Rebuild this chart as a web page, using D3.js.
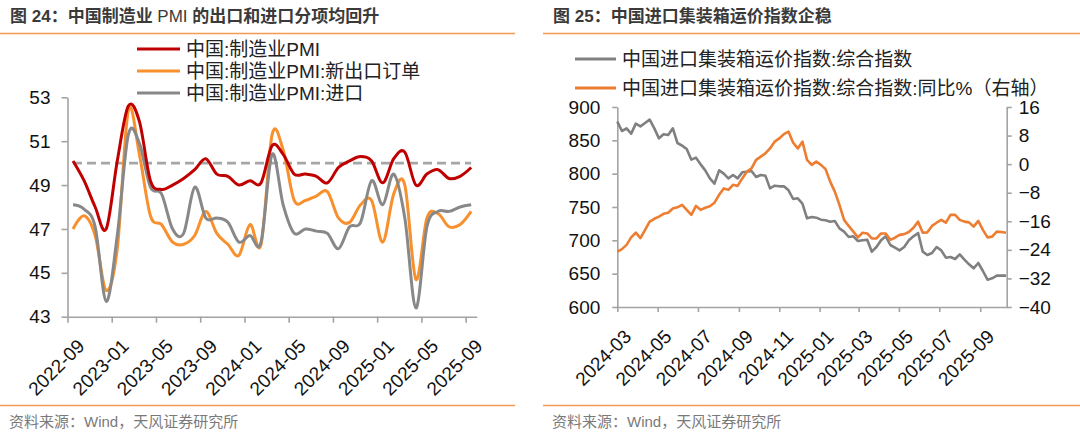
<!DOCTYPE html>
<html>
<head>
<meta charset="utf-8">
<title>PMI 与集装箱运价</title>
<script src="https://d3js.org/d3.v7.min.js"></script>
<style>
body { margin: 0; background: #fff; }
</style>
</head>
<body>
<div id="chart"></div>
<script>
// ---- 图24：中国制造业PMI（月度）----
const pmiMonths = ["2022-09","2022-10","2022-11","2022-12","2023-01","2023-02","2023-03","2023-04","2023-05","2023-06",
  "2023-07","2023-08","2023-09","2023-10","2023-11","2023-12","2024-01","2024-02","2024-03","2024-04",
  "2024-05","2024-06","2024-07","2024-08","2024-09","2024-10","2024-11","2024-12","2025-01","2025-02",
  "2025-03","2025-04","2025-05","2025-06","2025-07","2025-08","2025-09"];
const pmiTickMonths = ["2022-09","2023-01","2023-05","2023-09","2024-01","2024-05","2024-09","2025-01","2025-05","2025-09"];
const pmi       = [50.1,49.2,48.0,47.0,50.1,52.6,51.9,49.2,48.8,49.0,49.3,49.7,50.2,49.5,49.4,49.0,49.2,49.1,50.8,50.4,
                   49.5,49.5,49.4,49.1,49.8,50.1,50.3,50.1,49.1,50.2,50.5,49.0,49.5,49.7,49.3,49.4,49.8];
const pmiExport = [47.0,47.6,46.7,44.2,46.1,52.4,50.4,47.6,47.2,46.4,46.3,46.7,47.8,46.8,46.3,45.8,47.2,46.3,51.3,50.6,
                   48.3,48.3,48.5,48.7,47.5,47.3,48.1,48.3,46.4,48.6,49.0,44.7,47.5,47.7,47.1,47.2,47.8];
const pmiImport = [48.1,47.9,47.1,43.7,46.7,51.3,50.9,48.9,48.6,47.0,46.8,48.9,47.5,47.5,47.3,46.4,46.7,46.4,50.4,48.1,
                   46.8,47.0,46.9,46.8,46.1,47.1,47.3,49.2,48.1,49.5,47.5,43.4,47.1,47.8,47.8,48.0,48.1];
const pmiYTicks = [43,45,47,49,51,53];
const pmiLine = 50;

// ---- 图25：中国进口集装箱运价指数（周度）----
const ccfiStart = "2024-03-01";
const ccfiIndex = [878,864,868,860,875,871,876,881,868,853,
                   859,858,868,846,842,837,821,824,814,805,
                   793,785,805,800,793,798,793,802,803,804,
                   795,798,797,778,782,781,781,775,762,763,
                   755,733,735,734,731,730,728,729,718,713,
                   705,706,699,700,701,683,690,700,706,693,
                   689,685,690,700,706,711,683,678,681,690,
                   685,674,675,672,679,671,664,658,666,654,
                   641,643,647,647,647];
const ccfiYoy = [-24.5,-23.8,-22.6,-20.5,-19.2,-20.7,-18.4,-16.1,-15.3,-14.7,
                 -13.9,-13.6,-12.4,-12.1,-11.4,-12.8,-14.2,-11.7,-12.8,-12.2,
                 -11.8,-10.8,-8.6,-6.8,-7.2,-5.8,-6.1,-4.0,-2.1,-1.2,
                 1.2,2.1,3.0,4.4,6.3,7.2,8.4,9.1,6.0,4.4,
                 6.3,1.2,-0.2,0.7,-0.2,-1.4,-4.9,-7.7,-11.4,-15.6,
                 -17.3,-18.9,-20.5,-19.2,-19.4,-20.8,-20.8,-19.4,-19.4,-21.2,
                 -20.6,-19.8,-19.6,-19.0,-17.8,-16.1,-19.2,-19.1,-17.3,-16.4,
                 -15.6,-16.4,-14.2,-14.2,-15.6,-16.1,-16.3,-17.5,-15.9,-18.4,
                 -20.5,-20.3,-18.9,-19.0,-19.2];
const ccfiTickMonths = ["2024-03","2024-05","2024-07","2024-09","2024-11","2025-01","2025-03","2025-05","2025-07","2025-09"];
const ccfiLeftTicks = [600,650,700,750,800,850,900];
const ccfiRightTicks = [-40,-32,-24,-16,-8,0,8,16];

const fontStack = '"Liberation Sans", Arial, "Noto Sans CJK SC", sans-serif';
const axisColor = "#a3a3a3";
const rule = "#f29b50";

const svg = d3.select("#chart").append("svg")
    .attr("width", 1080).attr("height", 433)
    .style("background", "#fff")
    .attr("font-family", fontStack);

// 标题、分隔线、资料来源
function frame(x0, x1, titleParts) {
    const t = svg.append("text").attr("x", x0 + 10).attr("y", 22)
        .attr("font-size", 17).attr("fill", "#3a3a3a");
    titleParts.forEach(p => t.append("tspan").attr("font-weight", p[1] ? "bold" : "normal").text(p[0]));
    svg.append("line").attr("x1", x0).attr("x2", x1).attr("y1", 33.5).attr("y2", 33.5)
        .attr("stroke", rule).attr("stroke-width", 1.5);
    svg.append("line").attr("x1", x0).attr("x2", x1).attr("y1", 405.5).attr("y2", 405.5)
        .attr("stroke", rule).attr("stroke-width", 1.5);
    svg.append("text").attr("x", x0 + 9).attr("y", 427)
        .attr("font-size", 15).attr("fill", "#7a7a7a")
        .text("资料来源：Wind，天风证券研究所");
}

function styleAxis(g) {
    g.attr("font-family", fontStack).attr("font-size", 19);
    g.select(".domain").attr("stroke", axisColor).attr("stroke-width", 1.6);
    g.selectAll(".tick line").attr("stroke", axisColor).attr("stroke-width", 1.6);
    g.selectAll(".tick text").attr("fill", "#111");
}

function rotateLabels(dx, dy) {
    return g => g.selectAll(".tick text")
        .attr("x", 0).attr("y", 0).attr("dy", "0.72em")
        .attr("text-anchor", "end")
        .attr("transform", `translate(${dx},${dy}) rotate(-45)`);
}

function legend(items, x, y0, step, len) {
    items.forEach((it, i) => {
        const y = y0 + i * step;
        svg.append("line").attr("x1", x).attr("x2", x + len).attr("y1", y).attr("y2", y)
            .attr("stroke", it.color).attr("stroke-width", 3);
        svg.append("text").attr("x", x + len + 6).attr("y", y)
            .attr("dominant-baseline", "central")
            .attr("font-size", 19).attr("fill", "#222").text(it.name);
    });
}

// ================= 图24 =================
frame(0, 515, [["图 24：中国制造业 ", true], ["PMI", false], [" 的出口和进口分项均回升", true]]);

const xL = d3.scaleLinear().domain([0, pmiMonths.length]).range([67.5, 476.7]);
const yL = d3.scaleLinear().domain([43, 53]).range([316.7, 97.3]);

svg.append("g").attr("transform", `translate(${xL.range()[0]},0)`)
    .call(d3.axisLeft(yL).tickValues(pmiYTicks).tickSize(6).tickPadding(11).tickSizeOuter(0))
    .call(styleAxis);

svg.append("g").attr("transform", `translate(0,${yL.range()[0]})`)
    .call(d3.axisBottom(xL).tickValues(pmiTickMonths.map(m => pmiMonths.indexOf(m)))
        .tickFormat(i => pmiMonths[i]).tickSize(6).tickSizeOuter(0))
    .call(styleAxis)
    .call(rotateLabels(8, 21));

// 50 荣枯线
svg.append("line")
    .attr("x1", xL(0.5)).attr("x2", xL(pmiMonths.length - 0.5))
    .attr("y1", yL(pmiLine)).attr("y2", yL(pmiLine))
    .attr("stroke", "#a6a6a6").attr("stroke-width", 2.6).attr("stroke-dasharray", "9,5");

const smooth = d3.line().x((d, i) => xL(i + 0.5)).y(d => yL(d)).curve(d3.curveCatmullRom.alpha(0));
const pmiSeries = [
    { name: "中国:制造业PMI", values: pmi, color: "#c00000" },
    { name: "中国:制造业PMI:新出口订单", values: pmiExport, color: "#f7902d" },
    { name: "中国:制造业PMI:进口", values: pmiImport, color: "#888888" }
];
// 先画进口和出口，再画 PMI 于最上
[pmiSeries[1], pmiSeries[2], pmiSeries[0]].forEach(s => {
    svg.append("path").attr("d", smooth(s.values))
        .attr("fill", "none").attr("stroke", s.color).attr("stroke-width", 3)
        .attr("stroke-linejoin", "round");
});
legend(pmiSeries, 137, 49, 22, 43);

// ================= 图25 =================
frame(543, 1080, [["图 25：中国进口集装箱运价指数企稳", true]]);

const parseDay = d3.timeParse("%Y-%m-%d");
const parseMonth = d3.timeParse("%Y-%m");
const start = parseDay(ccfiStart);
const ccfiDates = ccfiIndex.map((d, i) => d3.timeDay.offset(start, 7 * i));

const xR = d3.scaleTime().domain([start, parseDay("2025-10-11")]).range([617.3, 1006.7]);
const yR1 = d3.scaleLinear().domain([600, 900]).range([307, 107]);
const yR2 = d3.scaleLinear().domain([-40, 16]).range([307, 107]);

svg.append("g").attr("transform", `translate(${xR.range()[0]},0)`)
    .call(d3.axisLeft(yR1).tickValues(ccfiLeftTicks).tickSize(5).tickPadding(12).tickSizeOuter(0))
    .call(styleAxis);
svg.append("g").attr("transform", `translate(${xR.range()[1]},0)`)
    .call(d3.axisRight(yR2).tickValues(ccfiRightTicks).tickSize(5).tickPadding(7).tickSizeOuter(0))
    .call(styleAxis);
svg.append("g").attr("transform", `translate(0,${yR1.range()[0]})`)
    .call(d3.axisBottom(xR).tickValues(ccfiTickMonths.map(parseMonth))
        .tickFormat(d3.timeFormat("%Y-%m")).tickSize(5).tickSizeOuter(0))
    .call(styleAxis)
    .call(rotateLabels(5, 21));

svg.append("path")
    .attr("d", d3.line().x((d, i) => xR(ccfiDates[i])).y(d => yR1(d))(ccfiIndex))
    .attr("fill", "none").attr("stroke", "#808080").attr("stroke-width", 2.6)
    .attr("stroke-linejoin", "round");
svg.append("path")
    .attr("d", d3.line().x((d, i) => xR(ccfiDates[i])).y(d => yR2(d))(ccfiYoy))
    .attr("fill", "none").attr("stroke", "#ed7d31").attr("stroke-width", 2.6)
    .attr("stroke-linejoin", "round");

legend([
    { name: "中国进口集装箱运价指数:综合指数", color: "#808080" },
    { name: "中国进口集装箱运价指数:综合指数:同比%（右轴）", color: "#ed7d31" }
], 575, 59, 29, 41);
</script>
</body>
</html>
